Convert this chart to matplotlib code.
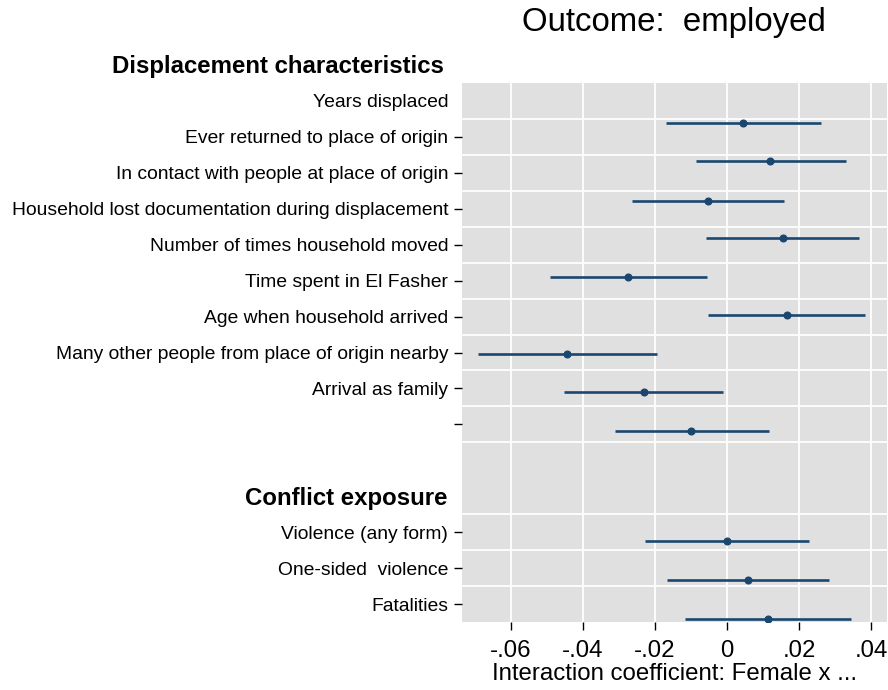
import matplotlib.pyplot as plt

plt.rcParams['font.family'] = ['Liberation Sans', 'DejaVu Sans']

labels = ["Years displaced",
          "Ever returned to place of origin",
          "In contact with people at place of origin",
          "Household lost documentation during displacement",
          "Number of times household moved",
          "Time spent in El Fasher",
          "Age when household arrived",
          "Many other people from place of origin nearby",
          "Arrival as family",
          "",
          "Violence (any form)",
          "One-sided  violence",
          "Fatalities"]
label_rows = [0, 1, 2, 3, 4, 5, 6, 7, 8, 9, 12, 13, 14]

coef = [0.0044, 0.0120, -0.0053, 0.0154, -0.0274, 0.0166, -0.0444, -0.0232, -0.0099,
        0.0000, 0.0058, 0.0113]
ci_lo = [-0.0170, -0.0087, -0.0264, -0.0059, -0.0493, -0.0052, -0.0691, -0.0453, -0.0310,
         -0.0229, -0.0166, -0.0117]
ci_hi = [0.0261, 0.0329, 0.0159, 0.0367, -0.0056, 0.0384, -0.0195, -0.0012, 0.0115,
         0.0228, 0.0282, 0.0344]
# rows where the estimates were drawn (they drift against the labels in the original)
coef_rows = [0.60, 1.68, 2.78, 3.82, 4.89, 5.96, 7.04, 8.11, 9.19, 12.25, 13.33, 14.41]

grid_rows = [0.5, 1.5, 2.5, 3.5, 4.5, 5.5, 6.5, 7.5, 8.5, 9.5, 11.5, 12.5, 13.5]
xticks = [-0.06, -0.04, -0.02, 0, 0.02, 0.04]
xticklabels = ["-.06", "-.04", "-.02", "0", ".02", ".04"]

navy = "#1a476f"

fig = plt.figure(figsize=(8.88, 6.9), dpi=100)
ax = fig.add_axes([462 / 888, 68 / 690, 425 / 888, 539 / 690])
ax.set_facecolor("#e0e0e0")
for s in ax.spines.values():
    s.set_visible(False)

for g in grid_rows:
    ax.axhline(g, color="white", lw=1.3, zorder=1)
for t in xticks:
    ax.axvline(t, color="white", lw=1.3, zorder=1)

ax.hlines(coef_rows, ci_lo, ci_hi, color=navy, lw=1.9, zorder=3)
ax.plot(coef, coef_rows, "o", color=navy, ms=4.8, zorder=4)

ax.set_xlim(-0.0736, 0.0444)
ax.set_ylim(14.5, -0.5)
ax.set_xticks(xticks)
ax.set_xticklabels(xticklabels, fontsize=17.3)
ax.set_yticks(label_rows)
ax.set_yticklabels(labels, fontsize=13.85)
ax.tick_params(axis="y", length=6, width=1, pad=4)
ax.tick_params(axis="x", length=6, width=1, pad=7)
ax.yaxis.get_major_ticks()[0].tick1line.set_visible(False)
ax.set_xlabel("Interaction coefficient: Female x ...", fontsize=17.3, labelpad=1)

trans = ax.get_yaxis_transform()
ax.text(-0.042, -0.95, "Displacement characteristics", transform=trans, ha="right",
        va="center", fontsize=17.3, fontweight="bold", clip_on=False)
ax.text(-0.035, 11.05, "Conflict exposure", transform=trans, ha="right",
        va="center", fontsize=17.3, fontweight="bold", clip_on=False)

fig.text(674 / 888, 1 - 22 / 690, "Outcome:  employed", ha="center", va="center",
         fontsize=23.8)

fig.savefig("out.png", dpi=100)
